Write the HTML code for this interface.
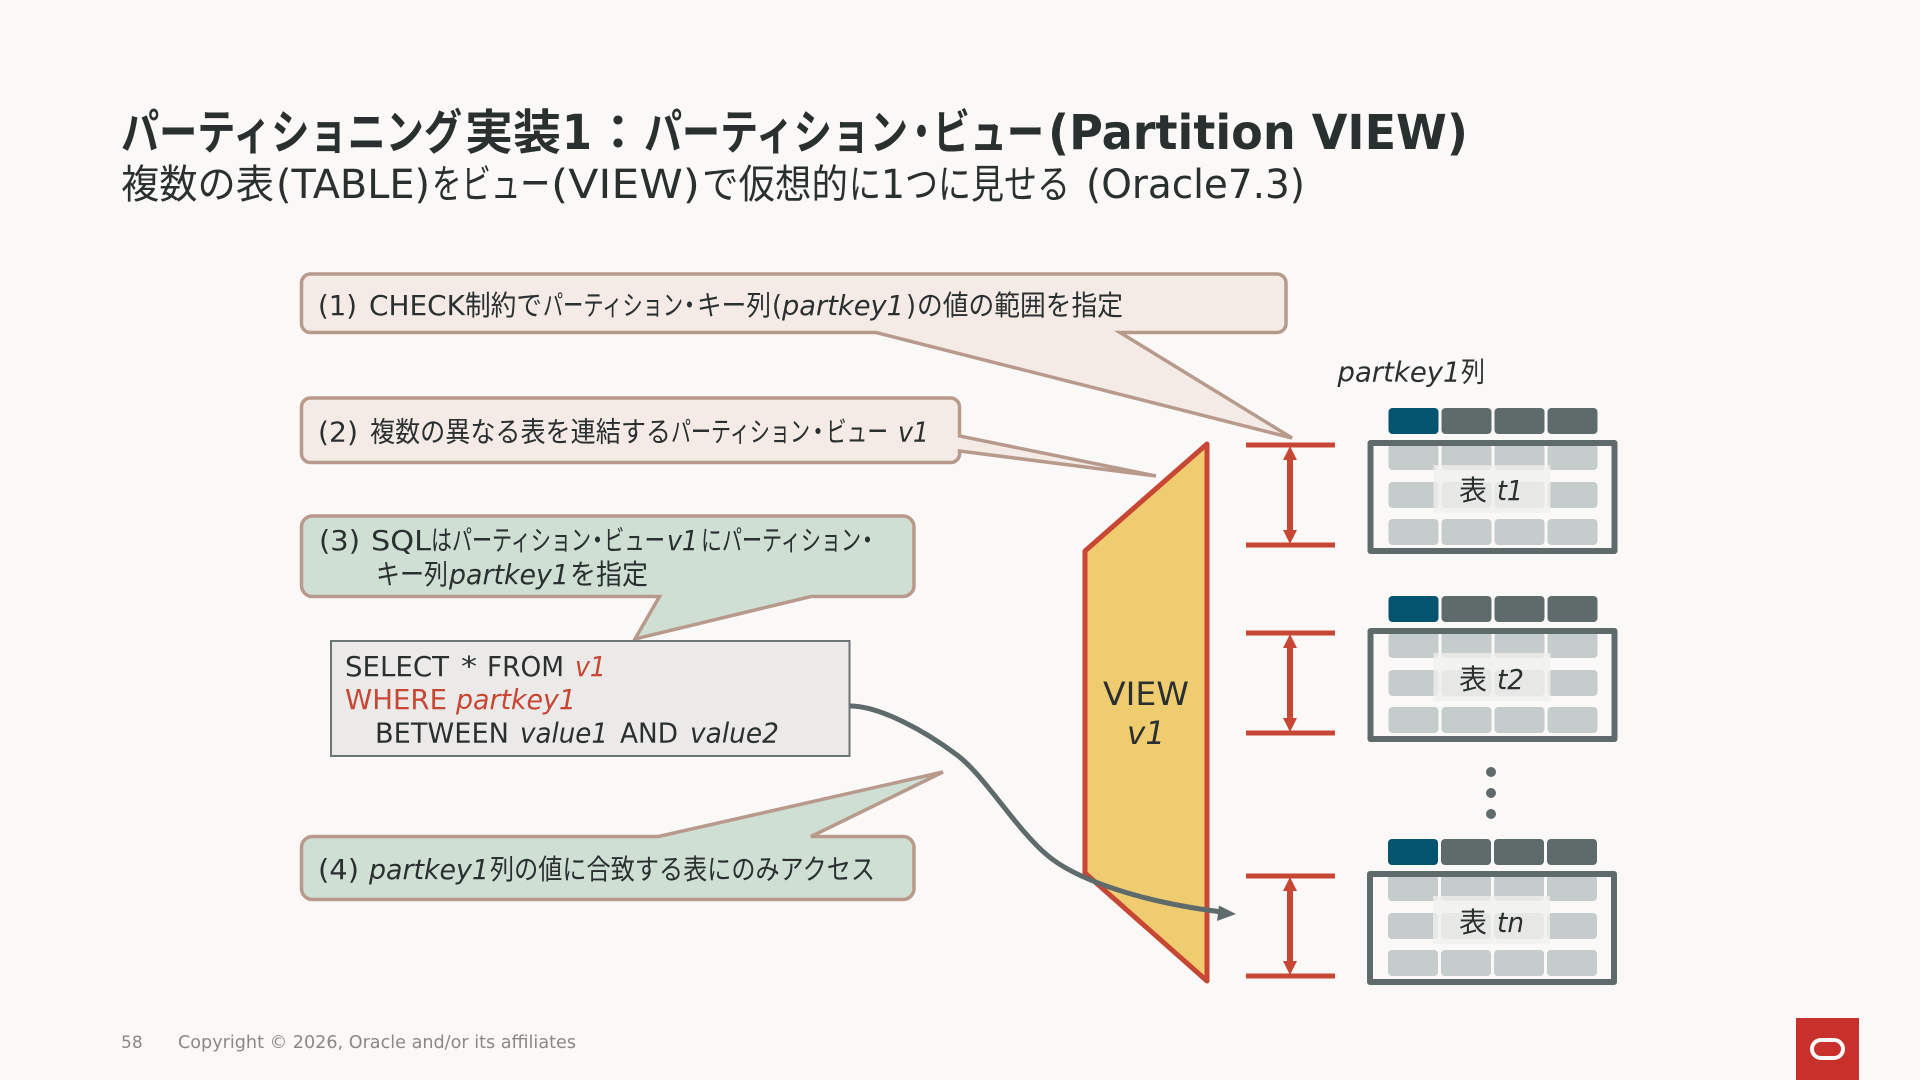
<!DOCTYPE html>
<html lang="ja"><head><meta charset="utf-8"><title>Partition VIEW</title>
<style>
html,body{margin:0;padding:0;background:#fbf9f8;width:1920px;height:1080px;overflow:hidden}
svg{display:block}
text{font-family:"DejaVu Sans","Noto Sans CJK JP",sans-serif;fill:#2a2f2f}
.i{font-style:italic}
.r{fill:#c74634}
.t{font-size:48px;font-weight:700}
.s{font-size:40px}
.b{font-size:28px}
</style></head><body>
<svg width="1920" height="1080" viewBox="0 0 1920 1080" xmlns="http://www.w3.org/2000/svg">
<defs>
<g id="cells">
<rect x="0" y="0" width="50" height="26" rx="4" fill="#04536f"/>
<rect x="53" y="0" width="50" height="26" rx="4" fill="#5f6b6b"/>
<rect x="106" y="0" width="50" height="26" rx="4" fill="#5f6b6b"/>
<rect x="159" y="0" width="50" height="26" rx="4" fill="#5f6b6b"/>
<g fill="#c6cccc">
<rect x="0" y="36" width="50" height="26" rx="4"/><rect x="53" y="36" width="50" height="26" rx="4"/><rect x="106" y="36" width="50" height="26" rx="4"/><rect x="159" y="36" width="50" height="26" rx="4"/>
<rect x="0" y="74" width="50" height="26" rx="4"/><rect x="53" y="74" width="50" height="26" rx="4"/><rect x="106" y="74" width="50" height="26" rx="4"/><rect x="159" y="74" width="50" height="26" rx="4"/>
<rect x="0" y="111" width="50" height="26" rx="4"/><rect x="53" y="111" width="50" height="26" rx="4"/><rect x="106" y="111" width="50" height="26" rx="4"/><rect x="159" y="111" width="50" height="26" rx="4"/>
</g>
<rect x="-18" y="35" width="244" height="108" fill="none" stroke="#5f6b6b" stroke-width="6" stroke-linejoin="round"/>
<rect x="45" y="57" width="117" height="48" fill="#f0efed" fill-opacity=".78"/>
</g>
<g id="dim">
<rect x="0" y="-2.500" width="89" height="5" fill="#c74634"/>
<rect x="0" y="97.500" width="89" height="5" fill="#c74634"/>
<rect x="41" y="10" width="6" height="80" fill="#c74634"/>
<path d="M44 1 L51 15 H37 Z M44 99 L51 85 H37 Z" fill="#c74634"/>
</g>
</defs>

<!-- Title -->
<text class="t" x="121" y="149" textLength="341" lengthAdjust="spacingAndGlyphs">パーティショニング</text>
<text class="t" x="465" y="149" textLength="96" lengthAdjust="spacingAndGlyphs">実装</text>
<text class="t" x="562" y="149" textLength="30" lengthAdjust="spacingAndGlyphs">1</text>
<text class="t" x="594" y="149" textLength="48" lengthAdjust="spacingAndGlyphs">：</text>
<text class="t" x="644" y="149" textLength="264" lengthAdjust="spacingAndGlyphs">パーティション</text>
<text class="t" x="904.500" y="149" textLength="34" lengthAdjust="spacingAndGlyphs">・</text>
<text class="t" x="933" y="149" textLength="111" lengthAdjust="spacingAndGlyphs">ビュー</text>
<text class="t" x="1048" y="149" textLength="420" lengthAdjust="spacingAndGlyphs">(Partition VIEW)</text>
<text class="s" x="121" y="198" textLength="153" lengthAdjust="spacingAndGlyphs">複数の表</text>
<text class="s" x="276" y="198" textLength="154" lengthAdjust="spacingAndGlyphs">(TABLE)</text>
<text class="s" x="432" y="198" textLength="118" lengthAdjust="spacingAndGlyphs">をビュー</text>
<text class="s" x="551" y="198" textLength="149" lengthAdjust="spacingAndGlyphs">(VIEW)</text>
<text class="s" x="702" y="198" textLength="146" lengthAdjust="spacingAndGlyphs">で仮想的</text>
<text class="s" x="849" y="198" textLength="32" lengthAdjust="spacingAndGlyphs">に</text>
<text class="s" x="881" y="198" textLength="24" lengthAdjust="spacingAndGlyphs">1</text>
<text class="s" x="905" y="198" textLength="165" lengthAdjust="spacingAndGlyphs">つに見せる</text>
<text class="s" x="1086" y="198" textLength="219" lengthAdjust="spacingAndGlyphs">(Oracle7.3)</text>

<!-- Callouts -->
<path d="M311 274H1277a9 9 0 0 1 9 9V323a9 9 0 0 1-9 9.500H1120L1292 438L876 332.500H311a9 9 0 0 1-9.500-9.500V283a9 9 0 0 1 9.500-9Z" fill="#f4ebe7" stroke="#b89a8c" stroke-width="3.500"/>
<path d="M311 398H950a9 9 0 0 1 9.500 9V436L1156 476L959.500 451V452a9 9 0 0 1-9.500 10.500H311a9 9 0 0 1-9.500-9.500V407a9 9 0 0 1 9.500-9Z" fill="#f4ebe7" stroke="#b89a8c" stroke-width="3.500"/>
<path d="M313 516H903a11 11 0 0 1 11 11V585.500a11 11 0 0 1-11 11H811L635 639L659.500 596.500H313a11 11 0 0 1-11.500-11V527a11 11 0 0 1 11.500-11Z" fill="#cfdfd3" stroke="#b89a8c" stroke-width="3.500"/>
<path d="M313 836.500H658.500L943 772L811 836.500H903a11 11 0 0 1 11 11V888.500a11 11 0 0 1-11 11H313a11 11 0 0 1-11.500-11V847.500a11 11 0 0 1 11.500-11Z" fill="#cfdfd3" stroke="#b89a8c" stroke-width="3.500"/>

<!-- Callout 1 -->
<text class="b" x="318" y="315" textLength="39" lengthAdjust="spacingAndGlyphs">(1)</text>
<text class="b" x="369" y="315" textLength="96" lengthAdjust="spacingAndGlyphs">CHECK</text>
<text class="b" x="465" y="315" textLength="77" lengthAdjust="spacingAndGlyphs">制約で</text>
<text class="b" x="543" y="315" textLength="140" lengthAdjust="spacingAndGlyphs">パーティション</text>
<text class="b" x="677.500" y="315" textLength="24" lengthAdjust="spacingAndGlyphs">・</text>
<text class="b" x="697" y="315" textLength="74" lengthAdjust="spacingAndGlyphs">キー列</text>
<text class="b" x="772" y="315" textLength="10" lengthAdjust="spacingAndGlyphs">(</text>
<text class="b i" x="782" y="315" textLength="122" lengthAdjust="spacingAndGlyphs">partkey1</text>
<text class="b" x="906" y="315" textLength="10" lengthAdjust="spacingAndGlyphs">)</text>
<text class="b" x="917" y="315" textLength="206" lengthAdjust="spacingAndGlyphs">の値の範囲を指定</text>

<!-- Callout 2 -->
<text class="b" x="318" y="441.500" textLength="40" lengthAdjust="spacingAndGlyphs">(2)</text>
<text class="b" x="370" y="441.500" textLength="301" lengthAdjust="spacingAndGlyphs">複数の異なる表を連結する</text>
<text class="b" x="671" y="441.500" textLength="139" lengthAdjust="spacingAndGlyphs">パーティション</text>
<text class="b" x="806" y="441.500" textLength="24" lengthAdjust="spacingAndGlyphs">・</text>
<text class="b" x="826" y="441.500" textLength="62" lengthAdjust="spacingAndGlyphs">ビュー</text>
<text class="b i" x="898" y="441.500" textLength="31" lengthAdjust="spacingAndGlyphs">v1</text>

<!-- Callout 3 -->
<text class="b" x="319" y="550" textLength="41" lengthAdjust="spacingAndGlyphs">(3)</text>
<text class="b" x="371" y="550" textLength="60" lengthAdjust="spacingAndGlyphs">SQL</text>
<text class="b" x="431" y="550" textLength="21" lengthAdjust="spacingAndGlyphs">は</text>
<text class="b" x="452" y="550" textLength="139" lengthAdjust="spacingAndGlyphs">パーティション</text>
<text class="b" x="585.500" y="550" textLength="24" lengthAdjust="spacingAndGlyphs">・</text>
<text class="b" x="604" y="550" textLength="61" lengthAdjust="spacingAndGlyphs">ビュー</text>
<text class="b i" x="667" y="550" textLength="31" lengthAdjust="spacingAndGlyphs">v1</text>
<text class="b" x="701" y="550" textLength="21" lengthAdjust="spacingAndGlyphs">に</text>
<text class="b" x="722" y="550" textLength="139" lengthAdjust="spacingAndGlyphs">パーティション</text>
<text class="b" x="855.500" y="550" textLength="24" lengthAdjust="spacingAndGlyphs">・</text>
<text class="b" x="376" y="584" textLength="72" lengthAdjust="spacingAndGlyphs">キー列</text>
<text class="b i" x="449" y="584" textLength="120" lengthAdjust="spacingAndGlyphs">partkey1</text>
<text class="b" x="570" y="584" textLength="78" lengthAdjust="spacingAndGlyphs">を指定</text>

<!-- Callout 4 -->
<text class="b" x="318" y="879" textLength="41" lengthAdjust="spacingAndGlyphs">(4)</text>
<text class="b i" x="369" y="879" textLength="120" lengthAdjust="spacingAndGlyphs">partkey1</text>
<text class="b" x="490" y="879" textLength="385" lengthAdjust="spacingAndGlyphs">列の値に合致する表にのみアクセス</text>

<!-- SQL box -->
<rect x="331" y="641" width="518.500" height="115" fill="#ebeae8" stroke="#6b7575" stroke-width="2"/>
<text class="b" x="345" y="676" textLength="104" lengthAdjust="spacingAndGlyphs">SELECT</text>
<text class="b" x="461" y="676" textLength="16" lengthAdjust="spacingAndGlyphs">*</text>
<text class="b" x="487" y="676" textLength="77" lengthAdjust="spacingAndGlyphs">FROM</text>
<text class="b i r" x="575" y="676" textLength="31" lengthAdjust="spacingAndGlyphs">v1</text>
<text class="b r" x="345" y="709" textLength="102" lengthAdjust="spacingAndGlyphs">WHERE</text>
<text class="b i r" x="456" y="709" textLength="120" lengthAdjust="spacingAndGlyphs">partkey1</text>
<text class="b" x="375" y="742.500" textLength="134" lengthAdjust="spacingAndGlyphs">BETWEEN</text>
<text class="b i" x="520" y="742.500" textLength="88" lengthAdjust="spacingAndGlyphs">value1</text>
<text class="b" x="620" y="742.500" textLength="58" lengthAdjust="spacingAndGlyphs">AND</text>
<text class="b i" x="690" y="742.500" textLength="89" lengthAdjust="spacingAndGlyphs">value2</text>

<!-- View trapezoid -->
<polygon points="1207,444 1207,981 1085,873 1085,551" fill="#f0cc71" stroke="#c74634" stroke-width="5" stroke-linejoin="round"/>
<text x="1103" y="705" font-size="32" textLength="86" lengthAdjust="spacingAndGlyphs">VIEW</text>
<text x="1127" y="744" font-size="32" class="i" textLength="38" lengthAdjust="spacingAndGlyphs">v1</text>

<!-- Tables -->
<text class="b i" x="1337.500" y="381.500" textLength="123" lengthAdjust="spacingAndGlyphs">partkey1</text>
<text class="b" x="1461" y="381.500" textLength="24" lengthAdjust="spacingAndGlyphs">列</text>
<use href="#cells" x="1388.500" y="408"/>
<use href="#cells" x="1388.500" y="596"/>
<use href="#cells" x="1388" y="839"/>
<text x="1459" y="500" font-size="28">表</text><text x="1497" y="500" font-size="28" class="i" textLength="26" lengthAdjust="spacingAndGlyphs">t1</text>
<text x="1459" y="689" font-size="28">表</text><text x="1497" y="689" font-size="28" class="i" textLength="27" lengthAdjust="spacingAndGlyphs">t2</text>
<text x="1459" y="932" font-size="28">表</text><text x="1497" y="932" font-size="28" class="i" textLength="27" lengthAdjust="spacingAndGlyphs">tn</text>

<circle cx="1491" cy="772" r="5" fill="#5f6b6b"/>
<circle cx="1491" cy="793" r="5" fill="#5f6b6b"/>
<circle cx="1491" cy="814" r="5" fill="#5f6b6b"/>

<!-- Dimension arrows -->
<use href="#dim" x="1246" y="445"/>
<use href="#dim" x="1246" y="633"/>
<use href="#dim" x="1246" y="876"/>

<!-- Curve -->
<path d="M850 706C880 706 925 731 957 755C985 776 1015 828 1047 855C1075 879 1140 902 1222 912" fill="none" stroke="#5f6b6b" stroke-width="5"/>
<path d="M1236 914L1219 905.500L1217 921Z" fill="#5f6b6b"/>

<!-- Footer -->
<text x="121" y="1048" font-size="17" style="fill:#8a8886">58</text>
<text x="178" y="1048" font-size="17.500" style="fill:#8a8886" textLength="398" lengthAdjust="spacingAndGlyphs">Copyright © 2026, Oracle and/or its affiliates</text>

<!-- Logo -->
<rect x="1796" y="1018" width="63" height="62" fill="#c8302c"/>
<rect x="1812" y="1040" width="31" height="18" rx="9" fill="none" stroke="#fbf9f8" stroke-width="4"/>
</svg>
</body></html>
